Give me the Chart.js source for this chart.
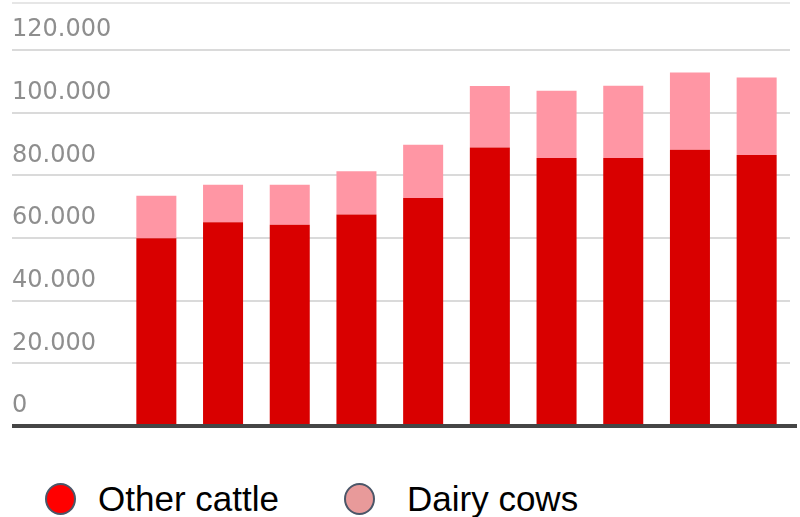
<!DOCTYPE html>
<html lang="en">
<head>
    <meta charset="UTF-8">
    <title>Cattle</title>
    <script src="https://cdn.jsdelivr.net/npm/chart.js"></script>
    <style>
        body {
            margin: 0;
            background: #fff;
        }
        #wrap {
            position: relative;
            width: 800px;
            height: 517px;
        }
        #chart {
            position: absolute;
            left: 0;
            top: 0;
        }
        .legend-item {
            position: absolute;
            top: 481px;
            height: 36px;
            display: flex;
            align-items: center;
            font-family: "Liberation Sans", Arial, sans-serif;
            font-size: 35px;
            color: #000;
        }
        .legend-dot {
            width: 31px;
            height: 32px;
            border-radius: 50%;
            border: 2px solid #4b5668;
            box-sizing: border-box;
        }
    </style>
</head>
<body>

<div id="wrap">
    <canvas id="chart" width="800" height="440"></canvas>
    <div id="legend"></div>
</div>

<script>
    // valores
    const categories = ['1', '2', '3', '4', '5', '6', '7', '8', '9', '10'];
    const otherCattle = [59900, 65000, 64200, 67500, 72800, 88900, 85500, 85500, 88200, 86500];
    const dairyCows = [13600, 12000, 12800, 13800, 17000, 19600, 21500, 23100, 24600, 24700];
    const yTicks = [0, 20000, 40000, 60000, 80000, 100000, 120000];
    const yMax = 135000;

    const seriesNames = ['Other cattle', 'Dairy cows'];
    const barColors = ['#d90000', '#ff96a4'];
    const legendColors = ['#ff0000', '#e89a9a'];
    const legendX = [45, 344];
    const legendGap = [22, 32];

    function fmt(v) {
        return v.toString().replace(/\B(?=(\d{3})+(?!\d))/g, '.');
    }

    // linea base oscura sobre las barras
    const baseLine = {
        id: 'baseLine',
        afterDatasetsDraw(chart) {
            const y = chart.scales.y.getPixelForValue(0);
            const c = chart.ctx;
            c.save();
            c.strokeStyle = '#454545';
            c.lineWidth = 4;
            c.beginPath();
            c.moveTo(12, y);
            c.lineTo(chart.chartArea.right + 7, y);
            c.stroke();
            c.restore();
        }
    };

    new Chart(document.getElementById('chart'), {
        type: 'bar',
        data: {
            labels: categories,
            datasets: [
                { label: seriesNames[0], data: otherCattle, backgroundColor: barColors[0] },
                { label: seriesNames[1], data: dairyCows, backgroundColor: barColors[1] }
            ]
        },
        options: {
            responsive: false,
            animation: false,
            layout: { padding: { left: 12, top: 3, bottom: 14, right: 10 } },
            datasets: { bar: { barPercentage: 0.6, categoryPercentage: 1 } },
            plugins: {
                legend: { display: false },
                tooltip: { enabled: false }
            },
            scales: {
                x: {
                    stacked: true,
                    display: false
                },
                y: {
                    stacked: true,
                    min: 0,
                    max: yMax,
                    afterFit(scale) {
                        scale.width = 111;
                        scale.paddingTop = 0;
                        scale.paddingBottom = 0;
                    },
                    afterBuildTicks(scale) {
                        scale.ticks = yTicks.concat([yMax]).map(v => ({ value: v }));
                    },
                    border: { display: false },
                    grid: {
                        color: ctx => ctx.tick && ctx.tick.value === yMax ? '#e6e6e6' : '#dadada',
                        lineWidth: 2,
                        drawTicks: true,
                        tickLength: 111
                    },
                    ticks: {
                        crossAlign: 'far',
                        padding: 0,
                        labelOffset: -20,
                        color: '#8e8e8e',
                        font: { family: 'DejaVu Sans', size: 24 },
                        callback: v => v === yMax ? '' : fmt(v)
                    }
                }
            }
        },
        plugins: [baseLine]
    });

    // leyenda en HTML
    const legend = document.getElementById('legend');
    seriesNames.forEach((name, i) => {
        const item = document.createElement('div');
        item.className = 'legend-item';
        item.style.left = legendX[i] + 'px';
        const dot = document.createElement('span');
        dot.className = 'legend-dot';
        dot.style.background = legendColors[i];
        dot.style.marginRight = legendGap[i] + 'px';
        const txt = document.createElement('span');
        txt.textContent = name;
        item.appendChild(dot);
        item.appendChild(txt);
        legend.appendChild(item);
    });
</script>

</body>
</html>
